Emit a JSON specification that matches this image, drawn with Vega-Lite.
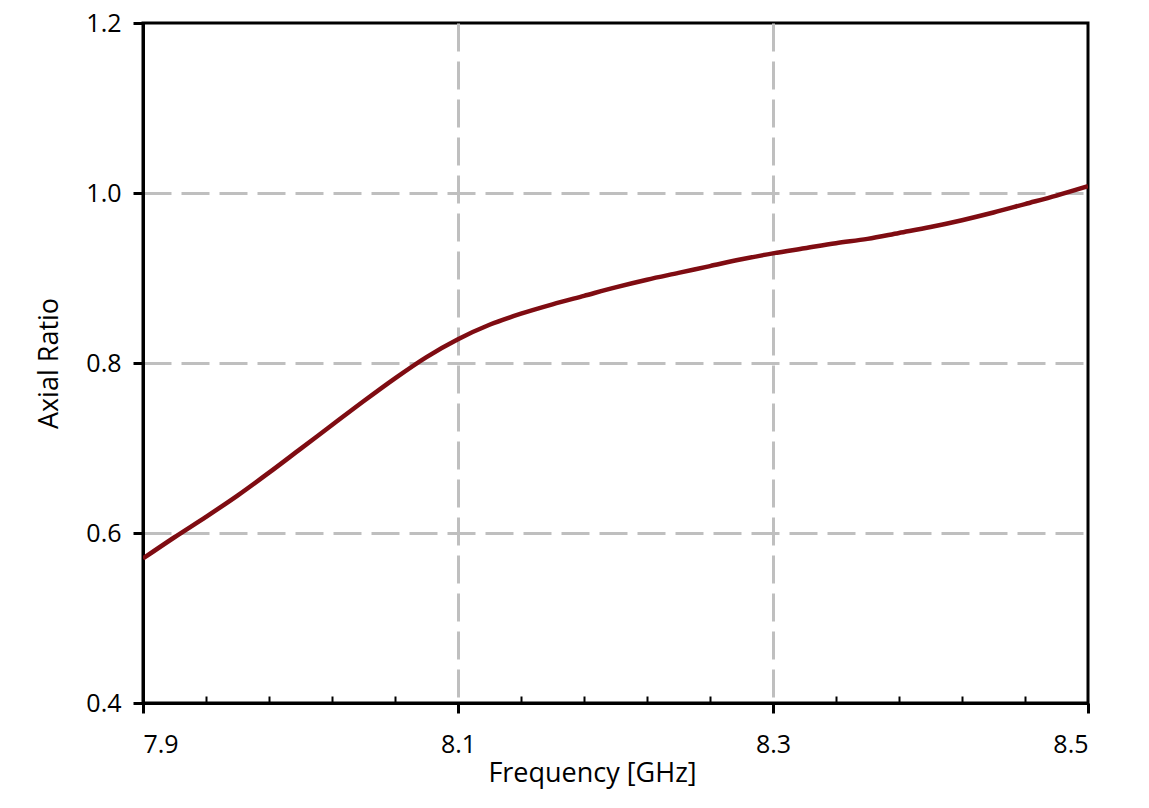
{
  "$schema": "https://vega.github.io/schema/vega-lite/v6.json",
  "autosize": "none",
  "width": 945,
  "height": 680,
  "padding": {"left": 143, "top": 23, "right": 61, "bottom": 105},
  "background": "white",
  "config": {
    "view": {"stroke": "black", "strokeWidth": 3},
    "axis": {"labelFont": "Open Sans", "titleFont": "Open Sans", "labelColor": "black", "titleColor": "black", "titleFontWeight": "normal"}
  },
  "data": {
    "values": [
      {"f": 7.90, "ar": 0.570},
      {"f": 7.92, "ar": 0.595},
      {"f": 7.94, "ar": 0.619},
      {"f": 7.96, "ar": 0.644},
      {"f": 7.98, "ar": 0.671},
      {"f": 8.00, "ar": 0.699},
      {"f": 8.02, "ar": 0.727},
      {"f": 8.04, "ar": 0.755},
      {"f": 8.06, "ar": 0.782},
      {"f": 8.08, "ar": 0.807},
      {"f": 8.10, "ar": 0.828},
      {"f": 8.12, "ar": 0.845},
      {"f": 8.14, "ar": 0.858},
      {"f": 8.16, "ar": 0.869},
      {"f": 8.18, "ar": 0.879},
      {"f": 8.20, "ar": 0.889},
      {"f": 8.22, "ar": 0.898},
      {"f": 8.24, "ar": 0.906},
      {"f": 8.26, "ar": 0.914},
      {"f": 8.28, "ar": 0.922},
      {"f": 8.30, "ar": 0.929},
      {"f": 8.32, "ar": 0.935},
      {"f": 8.34, "ar": 0.941},
      {"f": 8.36, "ar": 0.946},
      {"f": 8.38, "ar": 0.953},
      {"f": 8.40, "ar": 0.960},
      {"f": 8.42, "ar": 0.968},
      {"f": 8.44, "ar": 0.977},
      {"f": 8.46, "ar": 0.987},
      {"f": 8.48, "ar": 0.997},
      {"f": 8.50, "ar": 1.008}
    ]
  },
  "resolve": {"axis": {"x": "independent"}},
  "layer": [
    {
      "mark": {"type": "line", "color": "#7f0c12", "strokeWidth": 4.5, "clip": true, "interpolate": "monotone"},
      "encoding": {
        "x": {
          "field": "f", "type": "quantitative",
          "scale": {"domain": [7.9, 8.5], "nice": false, "zero": false},
          "axis": {
            "orient": "bottom",
            "values": [7.9, 8.1, 8.3, 8.5],
            "format": ".1f",
            "title": "Frequency [GHz]",
            "titleFontSize": 27,
            "labelFontSize": 25,
            "labelPadding": 19,
            "tickSize": 10,
            "tickWidth": 3,
            "tickColor": "black",
            "domainColor": "black",
            "domainWidth": 3,
            "grid": true,
            "gridColor": "#bfbfbf",
            "gridWidth": 3,
            "gridDash": [28, 10],
            "gridOpacity": {"condition": {"test": "datum.value <= 7.9 || datum.value >= 8.5", "value": 0}, "value": 1},
            "titlePadding": 3,
            "titleX": 449,
            "titleAlign": "center"
          }
        },
        "y": {
          "field": "ar", "type": "quantitative",
          "scale": {"domain": [0.4, 1.2], "nice": false, "zero": false},
          "axis": {
            "values": [0.4, 0.6, 0.8, 1.0, 1.2],
            "format": ".1f",
            "title": "Axial Ratio",
            "titleFontSize": 27,
            "labelFontSize": 25,
            "labelPadding": 12,
            "tickSize": 10,
            "tickWidth": 3,
            "tickColor": "black",
            "domainColor": "black",
            "domainWidth": 3,
            "grid": true,
            "gridColor": "#bfbfbf",
            "gridWidth": 3,
            "gridDash": [28, 10],
            "gridOpacity": {"condition": {"test": "datum.value <= 0.4 || datum.value >= 1.2", "value": 0}, "value": 1},
            "titlePadding": 22
          }
        }
      }
    },
    {
      "mark": {"type": "line", "opacity": 0},
      "encoding": {
        "x": {
          "field": "f", "type": "quantitative",
          "axis": {
            "orient": "top",
            "offset": -680,
            "values": [7.94, 7.98, 8.02, 8.06, 8.14, 8.18, 8.22, 8.26, 8.34, 8.38, 8.42, 8.46],
            "labels": false,
            "title": null,
            "grid": false,
            "domain": false,
            "tickSize": 7,
            "tickWidth": 2,
            "tickColor": "black"
          }
        },
        "y": {"field": "ar", "type": "quantitative"}
      }
    }
  ]
}
